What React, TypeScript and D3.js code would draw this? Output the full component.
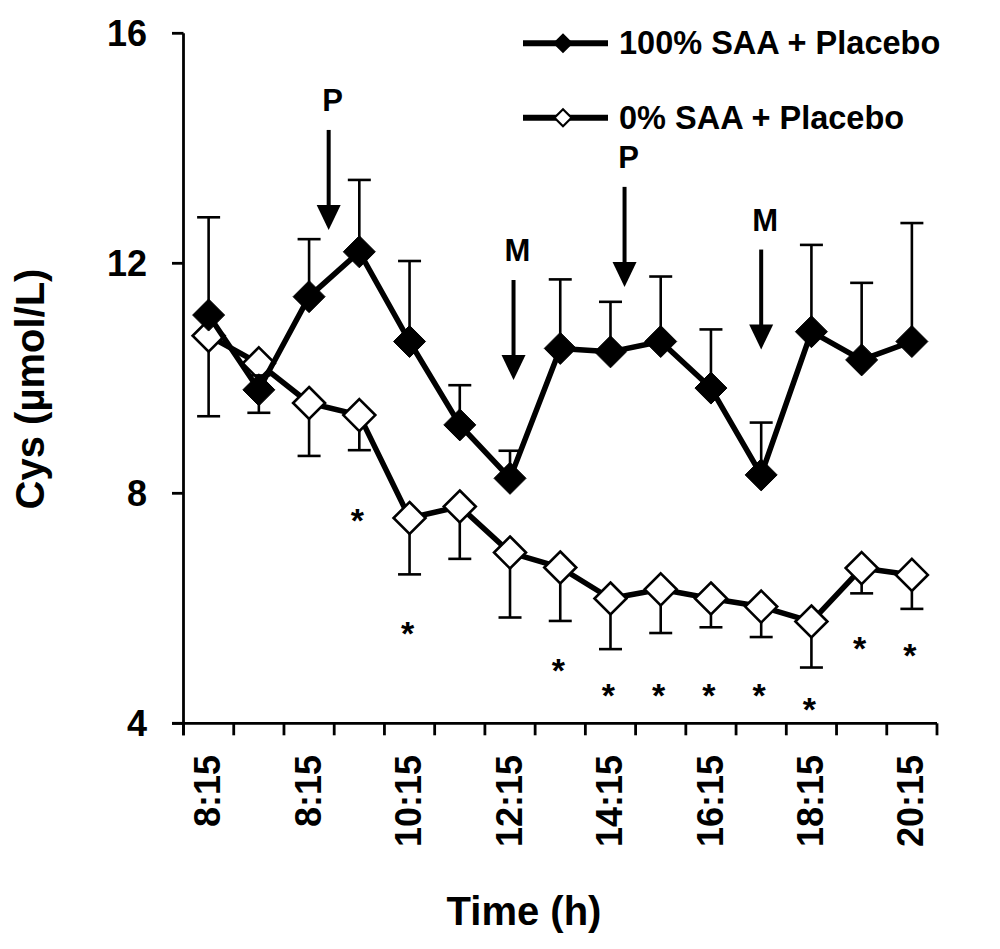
import React from 'react';
import * as d3 from 'd3';

// 15 sampling time points (x categories)
const timePoints = ['T1', 'T2', 'T3', 'T4', 'T5', 'T6', 'T7', 'T8', 'T9', 'T10', 'T11', 'T12', 'T13', 'T14', 'T15'];
// labels shown on every second time point (as printed in the source)
const tickLabels = ['8:15', '8:15', '10:15', '12:15', '14:15', '16:15', '18:15', '20:15'];
const yTicks = [4, 8, 12, 16];

// 100% SAA + Placebo (filled diamonds), mean and upper error
const saa100Mean = [11.10, 9.80, 11.42, 12.20, 10.64, 9.19, 8.26, 10.52, 10.46, 10.64, 9.83, 8.32, 10.81, 10.32, 10.64];
const saa100Upper = [12.80, 10.05, 12.42, 13.45, 12.04, 9.88, 8.74, 11.72, 11.33, 11.77, 10.85, 9.23, 12.32, 11.66, 12.70];

// 0% SAA + Placebo (open diamonds), mean and lower error
const saa0Mean = [10.74, 10.26, 9.57, 9.36, 7.57, 7.77, 6.97, 6.71, 6.17, 6.33, 6.17, 6.03, 5.77, 6.70, 6.58];
const saa0Lower = [9.34, 9.40, 8.65, 8.75, 6.59, 6.86, 5.84, 5.78, 5.29, 5.57, 5.67, 5.50, 4.97, 6.26, 5.99];

// significance asterisks: time point index and level (in µmol/L)
const starIndex = [3, 4, 7, 8, 9, 10, 11, 12, 13, 14];
const starLevel = [7.68, 5.71, 5.06, 4.64, 4.64, 4.64, 4.64, 4.38, 5.45, 5.33];

// event arrows (P = placebo, M = meal)
const eventLabels = ['P', 'M', 'P', 'M'];
const eventPos = [2.39, 6.07, 8.28, 11.0];
const eventTip = [12.58, 9.97, 11.59, 10.5];

const seriesNames = ['100% SAA + Placebo', '0% SAA + Placebo'];

const FONT = 'Liberation Sans, Arial, Helvetica, sans-serif';

export default function App() {
  const W = 1000;
  const H = 949;
  const x = d3.scaleLinear().domain([-0.5, timePoints.length - 0.5]).range([183.5, 937]);
  const y = d3.scaleLinear().domain([4, 16]).range([723.3, 33.3]);
  const idx = timePoints.map((_, i) => i);
  const line = d3.line<number[]>().x((d) => x(d[0])).y((d) => y(d[1]));
  const diamond = (cx: number, cy: number, r: number) =>
    `M${cx},${cy - r}L${cx + r},${cy}L${cx},${cy + r}L${cx - r},${cy}Z`;
  const capW = 11.5;
  const R = 16;

  const openPts = idx.map((i) => [i, saa0Mean[i]]);
  const fillPts = idx.map((i) => [i, saa100Mean[i]]);

  const boundaries = d3.range(timePoints.length + 1).map((k) => k - 0.5);

  return (
    <svg width={W} height={H} style={{ position: 'absolute', left: 0, top: 0, background: '#fff' }} fontFamily={FONT}>
      <rect x={0} y={0} width={W} height={H} fill="#fff" />
      {/* axes */}
      <g stroke="#000" strokeWidth={2.8} fill="none">
        <line x1={x(-0.5)} y1={y(16)} x2={x(-0.5)} y2={y(4) + 12} />
        <line x1={x(-0.5) - 11.5} y1={y(4)} x2={x(timePoints.length - 0.5)} y2={y(4)} />
        {yTicks.map((t) => (
          <line key={'yt' + t} x1={x(-0.5) - 11.5} x2={x(-0.5)} y1={y(t)} y2={y(t)} />
        ))}
        {boundaries.map((b) => (
          <line key={'xt' + b} x1={x(b)} x2={x(b)} y1={y(4)} y2={y(4) + 12} />
        ))}
      </g>
      {yTicks.map((t) => (
        <text key={'yl' + t} x={147} y={y(t)} dy="0.35em" textAnchor="end" fontSize={36} fontWeight="bold">
          {t}
        </text>
      ))}
      {tickLabels.map((lab, k) => (
        <text
          key={'xl' + k}
          transform={`translate(${x(k * 2) - 1},755) rotate(-90)`}
          dy="0.35em"
          textAnchor="end"
          fontSize={36}
          fontWeight="bold"
        >
          {lab}
        </text>
      ))}
      <text x={524} y={925} textAnchor="middle" fontSize={40} fontWeight="bold">
        Time (h)
      </text>
      <text transform="translate(44,389) rotate(-90)" textAnchor="middle" fontSize={40} fontWeight="bold">
        Cys (µmol/L)
      </text>

      {/* 0% SAA series */}
      <g stroke="#000" strokeWidth={2.6}>
        {idx.map((i) => (
          <g key={'eo' + i}>
            <line x1={x(i)} x2={x(i)} y1={y(saa0Mean[i])} y2={y(saa0Lower[i])} />
            <line x1={x(i) - capW} x2={x(i) + capW} y1={y(saa0Lower[i])} y2={y(saa0Lower[i])} />
          </g>
        ))}
      </g>
      <path d={line(openPts) || ''} fill="none" stroke="#000" strokeWidth={5.5} strokeLinejoin="round" />
      {idx.map((i) => (
        <path key={'mo' + i} d={diamond(x(i), y(saa0Mean[i]), R)} fill="#fff" stroke="#000" strokeWidth={2.6} />
      ))}

      {/* 100% SAA series */}
      <g stroke="#000" strokeWidth={2.6}>
        {idx.map((i) => (
          <g key={'ef' + i}>
            <line x1={x(i)} x2={x(i)} y1={y(saa100Mean[i])} y2={y(saa100Upper[i])} />
            <line x1={x(i) - capW} x2={x(i) + capW} y1={y(saa100Upper[i])} y2={y(saa100Upper[i])} />
          </g>
        ))}
      </g>
      <path d={line(fillPts) || ''} fill="none" stroke="#000" strokeWidth={5.5} strokeLinejoin="round" />
      {idx.map((i) => (
        <path key={'mf' + i} d={diamond(x(i), y(saa100Mean[i]), R)} fill="#000" stroke="#000" strokeWidth={1} />
      ))}

      {/* asterisks */}
      {starIndex.map((si, k) => (
        <text key={'st' + k} x={x(si) - 2} y={y(starLevel[k]) + 20} textAnchor="middle" fontSize={34} fontWeight="bold">
          *
        </text>
      ))}

      {/* event arrows */}
      {eventLabels.map((lab, k) => {
        const ax = x(eventPos[k]);
        const tip = y(eventTip[k]);
        return (
          <g key={'ev' + k}>
            <line x1={ax} x2={ax} y1={tip - 100} y2={tip - 22} stroke="#000" strokeWidth={4} />
            <path d={`M${ax - 12},${tip - 25}L${ax + 12},${tip - 25}L${ax},${tip}Z`} fill="#000" />
            <text x={ax + 4} y={tip - 119} textAnchor="middle" fontSize={31} fontWeight="bold">
              {lab}
            </text>
          </g>
        );
      })}

      {/* legend */}
      {seriesNames.map((name, k) => {
        const ly = k === 0 ? 43.3 : 117.7;
        return (
          <g key={'lg' + k}>
            <line x1={523} x2={608} y1={ly} y2={ly} stroke="#000" strokeWidth={6} />
            <path
              d={diamond(563, ly, 8.5)}
              fill={k === 0 ? '#000' : '#fff'}
              stroke="#000"
              strokeWidth={2.2}
            />
            <text x={619} y={ly + 11} fontSize={32.5} fontWeight="bold">
              {name}
            </text>
          </g>
        );
      })}
    </svg>
  );
}
